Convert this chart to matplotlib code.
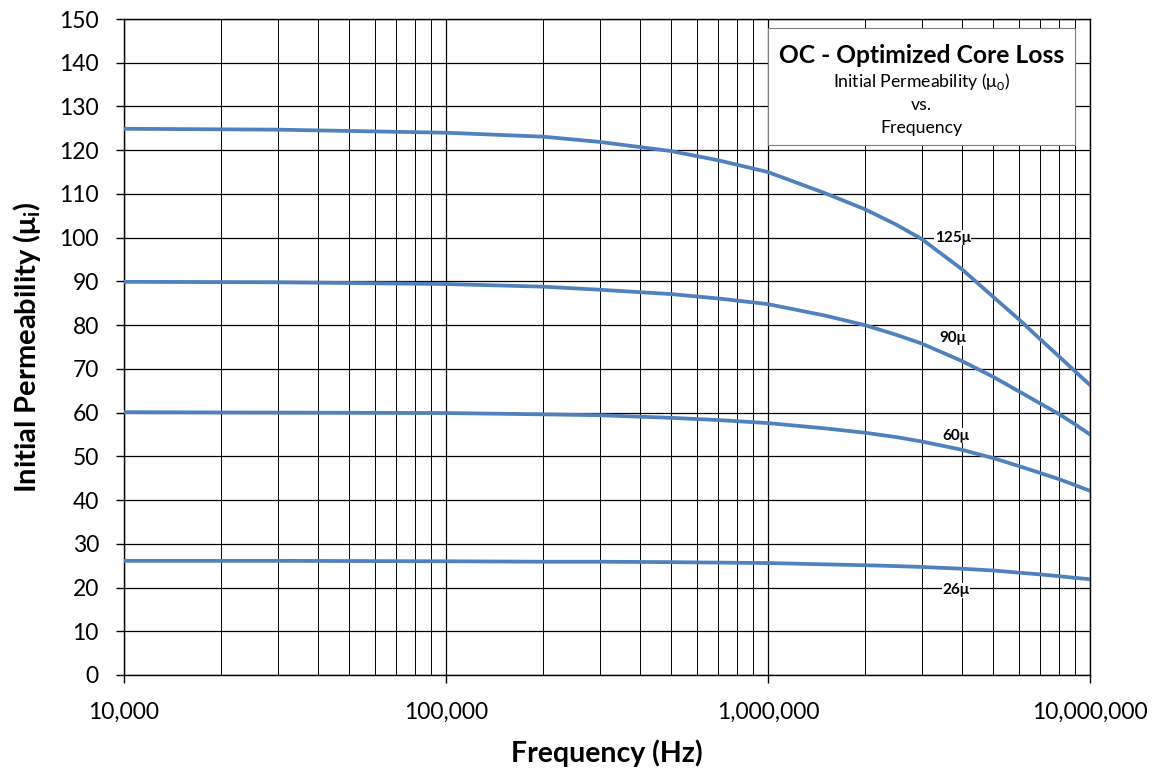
import numpy as np
import matplotlib.pyplot as plt
from matplotlib.ticker import FuncFormatter, LogLocator, MultipleLocator

plt.rcParams['font.family'] = ['Lato', 'DejaVu Sans']

freq = [1e4, 3e4, 1e5, 2e5, 3e5, 5e5, 7e5, 1e6, 1.5e6, 2e6, 2.5e6, 3e6, 4e6, 5e6, 6e6, 7e6, 8e6, 9e6, 1e7]
mu125 = [124.9, 124.7, 124.0, 123.1, 121.9, 119.8, 117.7, 115.0, 110.2, 106.5, 103.0, 99.7, 92.8, 86.5, 81.4, 76.8, 72.9, 69.4, 66.3]
mu90 = [89.9, 89.8, 89.4, 88.8, 88.1, 87.1, 86.1, 84.8, 82.2, 80.0, 77.8, 75.8, 71.8, 68.2, 64.9, 62.1, 59.7, 57.3, 55.0]
mu60 = [60.1, 60.0, 59.9, 59.6, 59.4, 58.8, 58.3, 57.6, 56.4, 55.4, 54.4, 53.4, 51.5, 49.6, 47.8, 46.2, 44.8, 43.4, 42.1]
mu26 = [26.1, 26.1, 26.0, 25.9, 25.9, 25.8, 25.7, 25.6, 25.3, 25.1, 24.9, 24.7, 24.3, 23.9, 23.4, 23.0, 22.6, 22.2, 21.9]

labels = ['125\u03bc', '90\u03bc', '60\u03bc', '26\u03bc']
label_x = [3.75e6, 3.75e6, 3.83e6, 3.83e6]
label_y = [100.0, 77.0, 54.7, 19.4]

fig = plt.figure(figsize=(11.65, 7.73), dpi=100)
ax = fig.add_axes([0.1064, 0.1268, 0.8292, 0.8486])

for series in [mu125, mu90, mu60, mu26]:
    ax.plot(freq, series, color='#4F81BD', lw=2.7, solid_joinstyle='round', zorder=3)

for t, x, y in zip(labels, label_x, label_y):
    ax.text(x, y, t, fontsize=11, fontweight='bold', ha='center', va='center',
            bbox=dict(facecolor='white', edgecolor='none', pad=0.3), zorder=4)

ax.set_xscale('log')
ax.set_xlim(1e4, 1e7)
ax.set_ylim(0, 150)
ax.yaxis.set_major_locator(MultipleLocator(10))
ax.xaxis.set_major_locator(LogLocator(base=10))
ax.xaxis.set_minor_locator(LogLocator(base=10, subs=np.arange(2, 10)))
ax.xaxis.set_major_formatter(FuncFormatter(lambda v, p: f'{int(round(v)):,}'))
ax.xaxis.set_minor_formatter(FuncFormatter(lambda v, p: ''))

ax.grid(which='major', color='black', lw=0.9)
ax.grid(which='minor', axis='x', color='black', lw=0.7)
ax.set_axisbelow(True)
ax.tick_params(which='major', direction='out', length=6, width=1, labelsize=16.5)
ax.tick_params(which='minor', length=0)
ax.tick_params(axis='y', pad=12)
ax.tick_params(axis='x', pad=13)
for s in ax.spines.values():
    s.set_color('black')
    s.set_linewidth(1)

ax.set_xlabel('Frequency (Hz)', fontsize=20.5, fontweight='bold', labelpad=12)
ax.set_ylabel('Initial Permeability (\u03bc$_\\mathregular{i}$)', fontsize=21, fontweight='bold', labelpad=12)

# title box
box = plt.Rectangle((0.6667, 0.808), 0.3178, 0.178, transform=ax.transAxes,
                    facecolor='white', edgecolor='#7f7f7f', lw=0.8, zorder=5)
ax.add_patch(box)
ax.text(0.8256, 0.945, 'OC - Optimized Core Loss', transform=ax.transAxes, fontsize=17.7,
        fontweight='bold', ha='center', va='center', zorder=6)
sub_lines = ['Initial Permeability (\u03bc$_\\mathregular{0}$)', 'vs.', 'Frequency']
for line, yy in zip(sub_lines, [0.9055, 0.8689, 0.834]):
    ax.text(0.8256, yy, line, transform=ax.transAxes, fontsize=12.7,
            ha='center', va='center', zorder=6)

fig.savefig('out.png', dpi=100)
